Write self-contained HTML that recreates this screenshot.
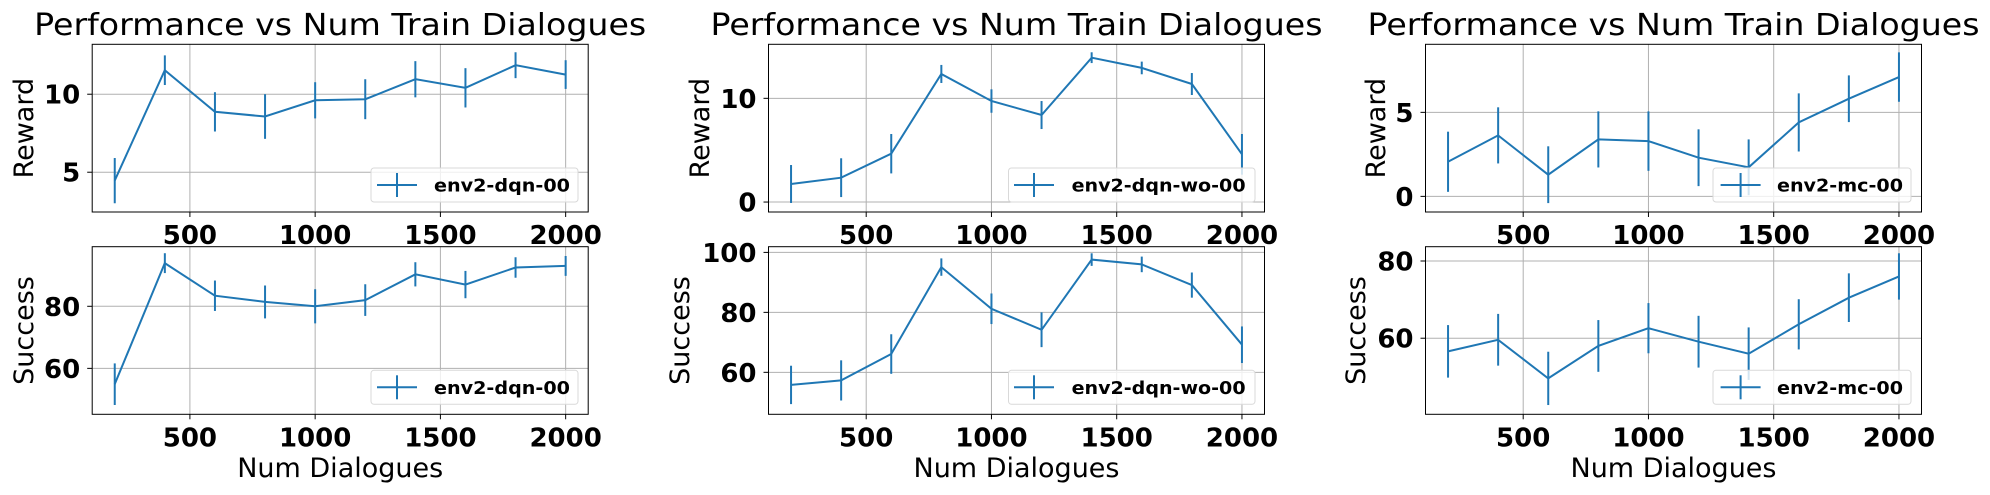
<!DOCTYPE html>
<html><head><meta charset="utf-8"><style>
html,body{margin:0;padding:0;background:#fff;}
svg{display:block;font-family:"DejaVu Sans","Liberation Sans",sans-serif;}
</style></head><body>
<svg id="fig" width="1990" height="495" viewBox="0 0 1990 495" xmlns="http://www.w3.org/2000/svg"></svg>
<script>
const xValues = [200,400,600,800,1000,1200,1400,1600,1800,2000];
const xTicks = [500,1000,1500,2000];
const titles = ["Performance vs Num Train Dialogues","Performance vs Num Train Dialogues","Performance vs Num Train Dialogues"];
const legendLabels = ["env2-dqn-00","env2-dqn-wo-00","env2-mc-00"];
const reward1 = [4.46,11.54,8.87,8.57,9.61,9.68,10.96,10.41,11.86,11.26];
const reward1Err = [1.45,0.95,1.26,1.43,1.16,1.28,1.16,1.26,0.83,0.92];
const success1 = [54.9,93.9,83.4,81.4,80.0,82.0,90.3,87.0,92.5,93.0];
const success1Err = [6.7,3.2,4.9,5.3,5.5,5.1,3.9,4.4,3.3,3.2];
const reward2 = [1.74,2.35,4.66,12.35,9.74,8.39,13.92,12.93,11.38,4.6];
const reward2Err = [1.83,1.87,1.9,0.87,1.13,1.35,0.52,0.61,1.06,1.96];
const success2 = [55.8,57.3,66.1,95.1,81.2,74.2,97.6,96.0,89.1,69.2];
const success2Err = [6.4,6.7,6.6,2.9,5.1,5.8,2.1,2.6,4.2,6.1];
const reward3 = [2.06,3.63,1.29,3.39,3.29,2.3,1.73,4.4,5.81,7.1];
const reward3Err = [1.79,1.67,1.69,1.67,1.77,1.69,1.66,1.73,1.39,1.47];
const success3 = [56.6,59.6,49.6,58.0,62.6,59.1,56.0,63.6,70.5,76.0];
const success3Err = [6.8,6.7,6.9,6.7,6.5,6.7,6.8,6.5,6.3,6.0];
const rewardTicks = [[5,10],[0,10],[0,5]];
const successTicks = [[60,80],[60,80,100],[60,80]];
const rewardLims = [[2.45,13.2],[-0.96,15.21],[-0.93,9.05]];
const successLims = [[45.2,99.2],[46,101.9],[40.3,83.7]];

const NS="http://www.w3.org/2000/svg";
const svg=document.getElementById('fig');
function mk(tag,attrs,parent){const e=document.createElementNS(NS,tag);for(const k in attrs)e.setAttribute(k,attrs[k]);(parent||svg).appendChild(e);return e;}
const C="#1f77b4";
const axLeft=[92.2,768.5,1425.5], axW=496;
const rows=[{top:44.3,bot:212,label:"Reward"},{top:246.7,bot:414.3,label:"Success"}];
const ylabX=[[24,24],[700,680],[1376,1356]];
const legBox=[[371,578],[1008.5,1255],[1713,1911]];
const legText=[[434,136],[1071.6,174],[1777,126]];
const legHandle=[377,1014,1720.6];
const rewards=[reward1,reward2,reward3], rewardErrs=[reward1Err,reward2Err,reward3Err];
const successes=[success1,success2,success3], successErrs=[success1Err,success2Err,success3Err];

for(let p=0;p<3;p++){
  const L=axLeft[p], R=L+axW;
  const xs=v=>L+(v-110)/(2090-110)*axW;
  const t=mk('text',{x:L+axW/2,y:35,'text-anchor':'middle','font-size':30,textLength:612,lengthAdjust:'spacingAndGlyphs',fill:'#000'});
  
  
  t.textContent=titles[p];
  for(let r=0;r<2;r++){
    const row=rows[r];
    const lims=r==0?rewardLims[p]:successLims[p];
    const ticks=r==0?rewardTicks[p]:successTicks[p];
    const vals=r==0?rewards[p]:successes[p];
    const errs=r==0?rewardErrs[p]:successErrs[p];
    const ys=v=>row.bot-(v-lims[0])/(lims[1]-lims[0])*(row.bot-row.top);
    const g=mk('g',{});
    
    
    // grid
    xTicks.forEach(v=>{
      mk('line',{x1:xs(v),x2:xs(v),y1:row.top,y2:row.bot,stroke:'#b0b0b0','stroke-width':1},g);
      mk('line',{x1:xs(v),x2:xs(v),y1:row.bot,y2:row.bot+5,stroke:'#000','stroke-width':1},g);
      const tl=mk('text',{x:xs(v),y:row.bot+32,'text-anchor':'middle','font-size':26,'font-weight':'bold',fill:'#000'},g);
      
      
      tl.textContent=v;
    });
    ticks.forEach(v=>{
      mk('line',{x1:L,x2:R,y1:ys(v),y2:ys(v),stroke:'#b0b0b0','stroke-width':1},g);
      mk('line',{x1:L-5,x2:L,y1:ys(v),y2:ys(v),stroke:'#000','stroke-width':1},g);
      const tl=mk('text',{x:L-12,y:ys(v)+9.5,'text-anchor':'end','font-size':26,'font-weight':'bold',fill:'#000'},g);
      
      
      tl.textContent=v;
    });
    // series
    let d='';
    vals.forEach((v,i)=>{d+=(i?'L':'M')+xs(xValues[i]).toFixed(1)+' '+ys(v).toFixed(1);});
    const ln=mk('path',{d:d,fill:'none',stroke:C,'stroke-width':2},g);
    
    
    vals.forEach((v,i)=>{
      const eb=mk('line',{x1:xs(xValues[i]),x2:xs(xValues[i]),y1:ys(v-errs[i]),y2:ys(v+errs[i]),stroke:C,'stroke-width':2},g);
      
      
    });
    mk('rect',{x:L,y:row.top,width:axW,height:row.bot-row.top,fill:'none',stroke:'#000','stroke-width':1},g);
    // y label
    const yl=mk('text',{x:0,y:0,'text-anchor':'middle','font-size':27,fill:'#000',transform:`translate(${ylabX[p][r]+9},${(row.top+row.bot)/2}) rotate(-90)`},g);
    
    
    yl.textContent=row.label;
    // legend
    const lg=mk('g',{},g);
    
    
    const by=row.bot-44;
    mk('rect',{x:legBox[p][0],y:by,width:legBox[p][1]-legBox[p][0],height:34,rx:3,fill:'#fff','fill-opacity':0.8,stroke:'#d9d9d9','stroke-width':1},lg);
    const hx=legHandle[p];
    mk('line',{x1:hx,x2:hx+40,y1:by+17,y2:by+17,stroke:C,'stroke-width':2},lg);
    mk('line',{x1:hx+20,x2:hx+20,y1:by+5,y2:by+29,stroke:C,'stroke-width':2},lg);
    const lt=mk('text',{x:legText[p][0],y:by+23.5,'font-size':18,'font-weight':'bold',textLength:legText[p][1],lengthAdjust:'spacingAndGlyphs',fill:'#000'},lg);
    
    
    lt.textContent=legendLabels[p];
  }
  const xl=mk('text',{x:L+axW/2,y:477,'text-anchor':'middle','font-size':27,fill:'#000'});
  
  
  xl.textContent='Num Dialogues';
}
</script>
</body></html>
